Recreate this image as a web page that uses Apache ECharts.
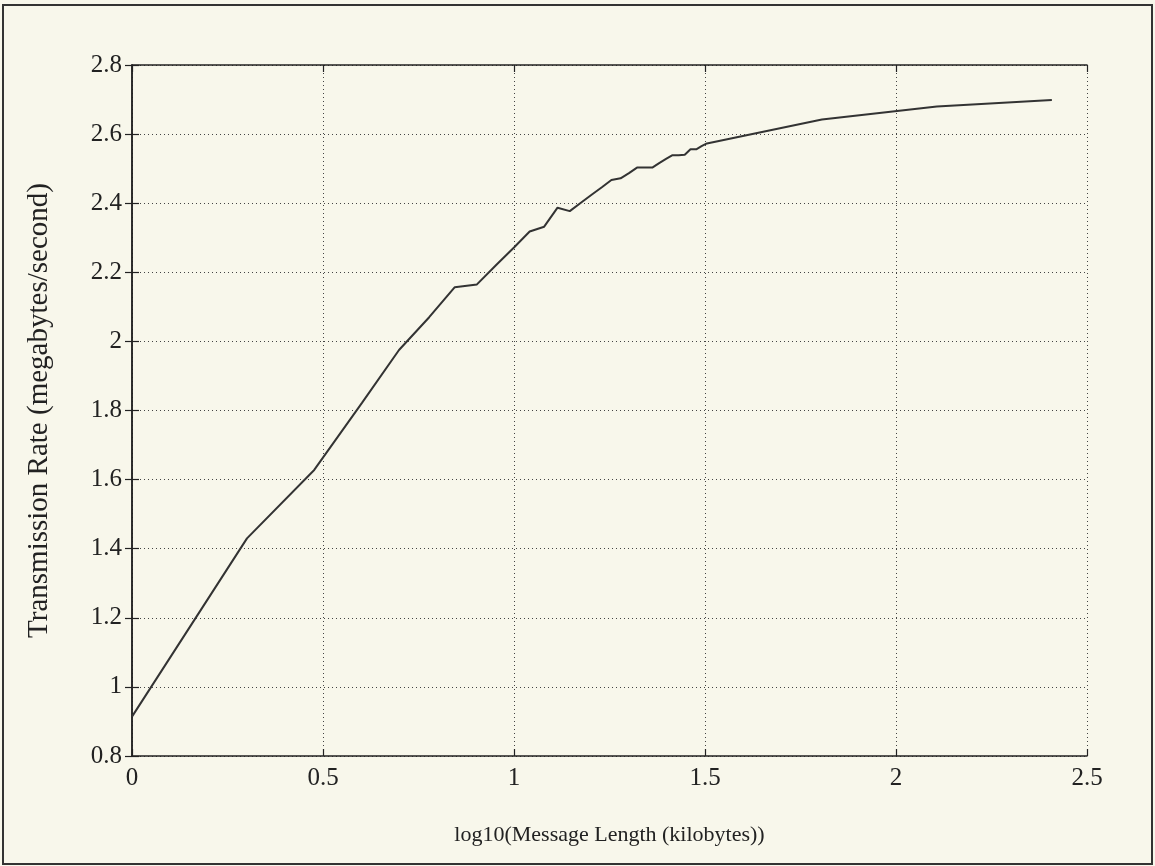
<!DOCTYPE html>
<html>
<head>
<meta charset="utf-8">
<script src="https://cdn.jsdelivr.net/npm/echarts@6/dist/echarts.min.js"></script>
<style>
  html, body { margin: 0; padding: 0; background: #f8f7eb; }
  #chart { width: 1155px; height: 866px; }
</style>
</head>
<body>
<div id="chart"></div>
<script>
// log10 of message length (kilobytes)
const logLength = [0, 0.301, 0.477, 0.602, 0.699, 0.778, 0.845, 0.903, 0.954, 1.0,
  1.041, 1.079, 1.114, 1.146, 1.176, 1.204, 1.230, 1.255, 1.279, 1.301,
  1.322, 1.342, 1.362, 1.380, 1.398, 1.415, 1.431, 1.447, 1.462, 1.477,
  1.491, 1.505, 1.806, 2.107, 2.408];
// transmission rate (megabytes/second)
const rate = [0.914, 1.430, 1.628, 1.822, 1.975, 2.070, 2.157, 2.165, 2.222, 2.272,
  2.318, 2.332, 2.387, 2.377, 2.402, 2.425, 2.446, 2.467, 2.472, 2.487,
  2.503, 2.503, 2.503, 2.516, 2.528, 2.539, 2.539, 2.540, 2.556, 2.556,
  2.565, 2.573, 2.642, 2.680, 2.699];

const xTitle = 'log10(Message Length (kilobytes))';
const yTitle = 'Transmission Rate (megabytes/second)';

const font = 'Liberation Serif, Times New Roman, serif';
const ink = '#222';

const axisBase = {
  type: 'value',
  axisLine: { show: true, lineStyle: { color: ink, width: 1.5 } },
  axisTick: { show: true, inside: true, length: 7, lineStyle: { color: ink, width: 1.2 } },
  splitLine: { show: false },
  axisLabel: { show: false }
};

const chart = echarts.init(document.getElementById('chart'), null, { renderer: 'canvas' });
chart.setOption({
  backgroundColor: '#f8f7eb',
  animation: false,
  grid: { left: 132, top: 65, width: 955, height: 691 },
  xAxis: [
    Object.assign({}, axisBase, {
      min: 0, max: 2.5, interval: 0.5, position: 'bottom',
      name: xTitle, nameLocation: 'middle', nameGap: 68,
      nameTextStyle: { fontFamily: font, fontSize: 22, color: ink },
      axisLabel: { show: true, margin: 10, fontFamily: font, fontSize: 25, color: ink },
      splitLine: { show: true, lineStyle: { type: [1, 3], color: '#444', width: 1 } }
    }),
    Object.assign({}, axisBase, { min: 0, max: 2.5, interval: 0.5, position: 'top' })
  ],
  yAxis: [
    Object.assign({}, axisBase, {
      min: 0.8, max: 2.8, interval: 0.2, position: 'left',
      name: yTitle, nameLocation: 'middle', nameGap: 78,
      nameTextStyle: { fontFamily: font, fontSize: 29, color: ink },
      axisLabel: { show: true, margin: 10, fontFamily: font, fontSize: 25, color: ink,
        formatter: v => String(Math.round(v * 10) / 10) },
      splitLine: { show: true, lineStyle: { type: [1, 3], color: '#444', width: 1 } }
    }),
    Object.assign({}, axisBase, { min: 0.8, max: 2.8, interval: 0.2, position: 'right' })
  ],
  series: [{
    type: 'line',
    xAxisIndex: 0,
    yAxisIndex: 0,
    data: logLength.map((x, i) => [x, rate[i]]),
    showSymbol: false,
    lineStyle: { color: '#333', width: 2 }
  }],
  graphic: [{
    type: 'rect',
    shape: { x: 3, y: 5, width: 1149, height: 859 },
    style: { fill: 'none', stroke: '#333', lineWidth: 2 },
    silent: true
  }]
});
</script>
</body>
</html>
